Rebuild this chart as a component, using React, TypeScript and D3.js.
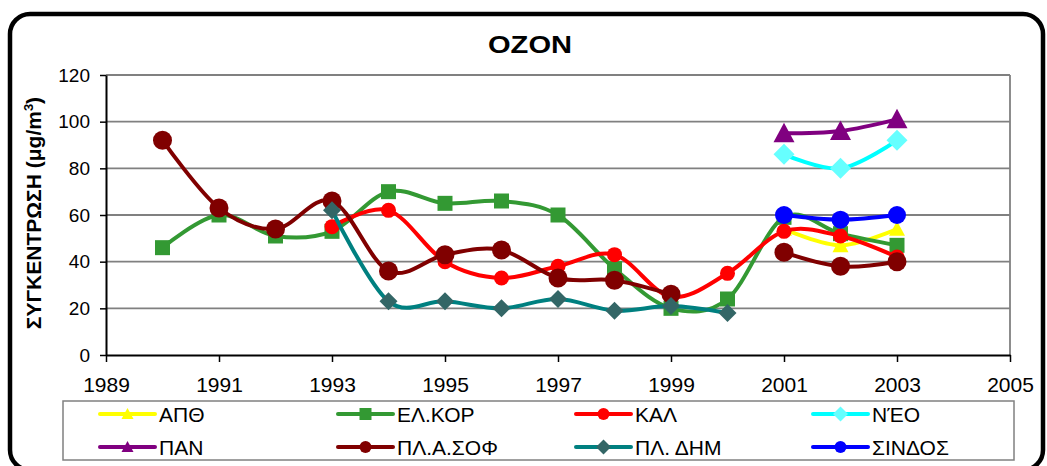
// @ts-nocheck
import React, { useEffect, useRef } from "react";
import * as d3 from "d3";

// station names, legend order
const stations = ["ΑΠΘ", "ΕΛ.ΚΟΡ", "ΚΑΛ", "ΝΈΟ", "ΠΑΝ", "ΠΛ.Α.ΣΟΦ", "ΠΛ. ΔΗΜ", "ΣΙΝΔΟΣ"];
const years = [1990, 1991, 1992, 1993, 1994, 1995, 1996, 1997, 1998, 1999, 2000, 2001, 2002, 2003];

// ozone concentrations (μg/m3), null = no measurement
const apth = [null, null, null, null, null, null, null, null, null, null, null, 54, 47, 54];
const elkor = [46, 60, 51, 53, 70, 65, 66, 60, 37, 20, 24, 59, 52, 47];
const kal = [null, null, null, 55, 62, 40, 33, 38, 43, 25, 35, 53, 51, 42];
const neo = [null, null, null, null, null, null, null, null, null, null, null, 86, 80, 92];
const pan = [null, null, null, null, null, null, null, null, null, null, null, 95, 96, 101];
const plasof = [92, 63, 54, 66, 36, 43, 45, 33, 32, 26, null, 44, 38, 40];
const pldim = [null, null, null, 62, 23, 23, 20, 24, 19, 21, 18, null, null, null];
const sindos = [null, null, null, null, null, null, null, null, null, null, null, 60, 58, 60];

const xTicks = [1989, 1991, 1993, 1995, 1997, 1999, 2001, 2003, 2005];
const yTicks = [0, 20, 40, 60, 80, 100, 120];

const seriesValues = [apth, elkor, kal, neo, pan, plasof, pldim, sindos];

// look of each series
const styles = [
  { line: "#FFFF00", fill: "#FFFF00", shape: "triangle", size: 16 },
  { line: "#339933", fill: "#339933", shape: "square", size: 15 },
  { line: "#FF0000", fill: "#FF0000", shape: "circle", size: 15 },
  { line: "#00FFFF", fill: "#66FFFF", shape: "diamond", size: 21 },
  { line: "#800080", fill: "#800080", shape: "triangle", size: 21 },
  { line: "#800000", fill: "#800000", shape: "circle", size: 19 },
  { line: "#008080", fill: "#336666", shape: "diamond", size: 18 },
  { line: "#0000FF", fill: "#0000FF", shape: "circle", size: 18 }
];

const FONT = "'Liberation Sans', Arial, sans-serif";

function markerPath(shape, s) {
  const h = s / 2;
  if (shape === "circle") return `M${h},0A${h},${h} 0 1,1 ${-h},0A${h},${h} 0 1,1 ${h},0Z`;
  if (shape === "square") return `M${-h},${-h}H${h}V${h}H${-h}Z`;
  if (shape === "diamond") return `M0,${-h}L${h},0L0,${h}L${-h},0Z`;
  return `M0,${-h}L${h},${h * 0.85}L${-h},${h * 0.85}Z`;
}

const App = () => {
  const ref = useRef();
  useEffect(() => {
    const svg = d3.select(ref.current);
    svg.selectAll("*").remove();

    const width = 1047,
      height = 466,
      margin = { top: 75, right: 37, bottom: 111, left: 106 };

    // outer rounded frame
    svg
      .append("rect")
      .attr("x", 10)
      .attr("y", 14)
      .attr("width", 1033)
      .attr("height", 456)
      .attr("rx", 20)
      .attr("fill", "white")
      .attr("stroke", "black")
      .attr("stroke-width", 4.5);

    svg
      .append("text")
      .attr("x", 530)
      .attr("y", 53)
      .attr("text-anchor", "middle")
      .attr("font-family", FONT)
      .attr("font-weight", "bold")
      .attr("font-size", 24)
      .attr("textLength", 84)
      .attr("lengthAdjust", "spacingAndGlyphs")
      .text("OZON");

    const ylab = svg
      .append("text")
      .attr("transform", "translate(41,213) rotate(-90)")
      .attr("text-anchor", "middle")
      .attr("font-family", FONT)
      .attr("font-weight", "bold")
      .attr("font-size", 21);
    ylab.append("tspan").text("ΣΥΓΚΕΝΤΡΩΣΗ (μg/m");
    ylab.append("tspan").attr("font-size", 13).attr("dy", -8).text("3");
    ylab.append("tspan").attr("dy", 8).text(")");

    const x = d3
      .scaleLinear()
      .domain([1989, 2005])
      .range([margin.left, width - margin.right]);
    const y = d3
      .scaleLinear()
      .domain([0, 120])
      .range([height - margin.bottom, margin.top]);

    // gridlines
    svg
      .append("g")
      .selectAll("line")
      .data(yTicks.filter(d => d > 0))
      .join("line")
      .attr("x1", x(1989))
      .attr("x2", x(2005))
      .attr("y1", d => y(d))
      .attr("y2", d => y(d))
      .attr("stroke", "#808080")
      .attr("stroke-width", 1.8);
    svg
      .append("line")
      .attr("x1", x(2005))
      .attr("x2", x(2005))
      .attr("y1", y(120))
      .attr("y2", y(0))
      .attr("stroke", "#808080")
      .attr("stroke-width", 1.8);

    const xAxis = svg
      .append("g")
      .attr("transform", `translate(0,${y(0)})`)
      .call(
        d3
          .axisBottom(x)
          .tickValues(xTicks)
          .tickFormat(d3.format("d"))
          .tickSize(7)
          .tickSizeOuter(0)
      );
    xAxis.select(".domain").attr("stroke", "black").attr("stroke-width", 2);
    xAxis.selectAll(".tick line").attr("stroke", "black").attr("stroke-width", 1.5);
    xAxis
      .selectAll(".tick text")
      .attr("font-family", FONT)
      .attr("font-size", 21)
      .attr("fill", "black")
      .attr("y", 22)
      .attr("dy", "0.71em");

    const yAxis = svg
      .append("g")
      .attr("transform", `translate(${x(1989)},0)`)
      .call(d3.axisLeft(y).tickValues(yTicks).tickSize(6).tickSizeOuter(0));
    yAxis.select(".domain").attr("stroke", "black").attr("stroke-width", 2);
    yAxis.selectAll(".tick line").attr("stroke", "black").attr("stroke-width", 1.5);
    yAxis
      .selectAll(".tick text")
      .attr("font-family", FONT)
      .attr("font-size", 19)
      .attr("fill", "black")
      .attr("x", -16);

    const line = d3
      .line()
      .defined(d => d.v != null)
      .x(d => x(d.year))
      .y(d => y(d.v))
      .curve(d3.curveCatmullRom.alpha(0));

    seriesValues.forEach((vals, i) => {
      const st = styles[i];
      const data = years.map((year, j) => ({ year, v: vals[j] }));
      const g = svg.append("g");
      g.append("path")
        .datum(data)
        .attr("fill", "none")
        .attr("stroke", st.line)
        .attr("stroke-width", 4)
        .attr("stroke-linejoin", "round")
        .attr("stroke-linecap", "round")
        .attr("d", line);
      g.selectAll(".m")
        .data(data.filter(d => d.v != null))
        .join("path")
        .attr("class", "m")
        .attr("transform", d => `translate(${x(d.year)},${y(d.v)})`)
        .attr("fill", st.fill)
        .attr("d", markerPath(st.shape, st.size));
    });

    // legend
    const lg = svg.append("g");
    lg.append("rect")
      .attr("x", 63)
      .attr("y", 401)
      .attr("width", 951)
      .attr("height", 59)
      .attr("fill", "white")
      .attr("stroke", "#808080")
      .attr("stroke-width", 1.5);
    const colX = [100, 338, 576, 813];
    const rowY = [414, 447];
    stations.forEach((name, i) => {
      const st = styles[i];
      const lx = colX[i % 4];
      const ly = rowY[Math.floor(i / 4)];
      lg.append("line")
        .attr("x1", lx)
        .attr("x2", lx + 55)
        .attr("y1", ly)
        .attr("y2", ly)
        .attr("stroke", st.line)
        .attr("stroke-width", 4)
        .attr("stroke-linecap", "round");
      lg.append("path")
        .attr("transform", `translate(${lx + 27.5},${ly})`)
        .attr("fill", st.fill)
        .attr("d", markerPath(st.shape, st.shape === "diamond" ? 15 : 12));
      lg.append("text")
        .attr("x", lx + 59)
        .attr("y", ly + 7.5)
        .attr("font-family", FONT)
        .attr("font-size", 21)
        .text(name);
    });
  }, []);

  return (
    <svg
      ref={ref}
      width={1047}
      height={466}
      style={{ position: "absolute", left: 0, top: 0, display: "block" }}
    ></svg>
  );
};

export default App;
